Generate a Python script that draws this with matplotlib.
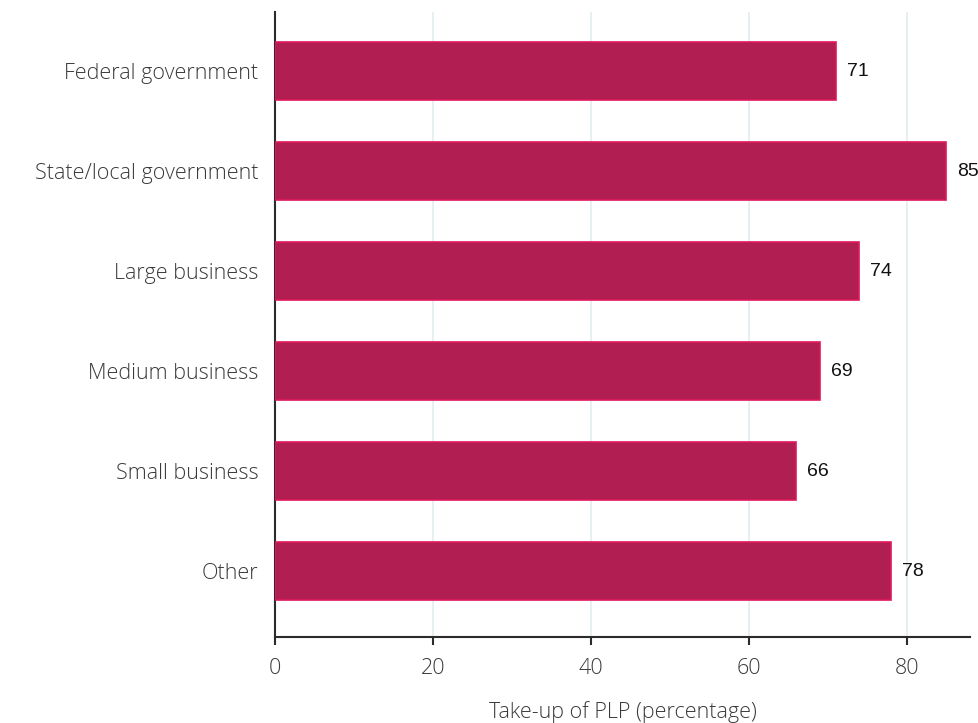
import matplotlib
matplotlib.use("Agg")
import matplotlib.pyplot as plt

categories = ["Federal government", "State/local government", "Large business",
              "Medium business", "Small business", "Other"]
values = [71, 85, 74, 69, 66, 78]
xticks = [0, 20, 40, 60, 80]

bar_color = "#B11F52"
edge_color = "#E0175A"
grid_color = "#E4EEF0"
axis_color = "#2b2b2b"
text_color = "#3a3a3a"
label_font = ["Open Sans", "DejaVu Sans"]

fig = plt.figure(figsize=(9.79, 7.23), dpi=100)
ax = fig.add_axes([275 / 979, 1 - 637 / 723, (970 - 275) / 979, (637 - 12) / 723])

ypos = list(range(len(categories)))
ax.barh(ypos, values, height=0.58, color=bar_color, edgecolor=edge_color,
        linewidth=1.2, zorder=3)

for y, v in zip(ypos, values):
    ax.text(v + 1.4, y, f"{v}", va="center", ha="left", fontsize=14,
            family=["Liberation Sans", "DejaVu Sans"], color="#111111", zorder=4)

ax.set_xlim(0, 88)
ax.set_ylim(len(categories) - 1 + 0.66, -0.59)
ax.set_yticks(ypos)
ax.set_yticklabels(categories, fontsize=15.5, family=label_font,
                   fontweight="light", color=text_color)
ax.set_xticks(xticks)
ax.set_xticklabels([str(t) for t in xticks], fontsize=15.5,
                   family=label_font, fontweight="light", color=text_color)
ax.tick_params(axis="y", length=0, pad=12)
ax.tick_params(axis="x", length=6, width=1.5, color=axis_color, pad=9)

ax.xaxis.grid(True, color=grid_color, linewidth=1.3, zorder=0)
ax.set_axisbelow(True)

for side in ("top", "right"):
    ax.spines[side].set_visible(False)
for side in ("left", "bottom"):
    ax.spines[side].set_color(axis_color)
    ax.spines[side].set_linewidth(1.5)

ax.set_xlabel("Take-up of PLP (percentage)", fontsize=15.5,
              family=label_font, fontweight="light",
              color=text_color, labelpad=16)

fig.savefig("out.png", dpi=100, facecolor="white")
